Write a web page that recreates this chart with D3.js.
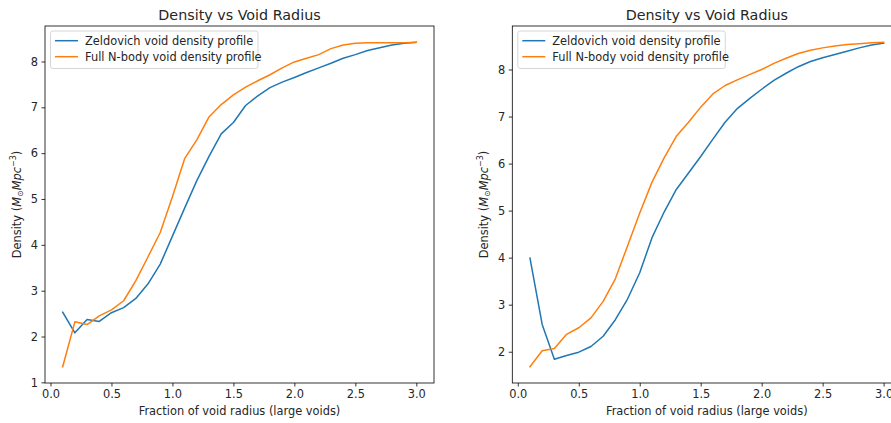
<!DOCTYPE html>
<html>
<head>
<meta charset="utf-8">
<script src="https://cdn.jsdelivr.net/npm/d3@7"></script>
<style>
  html, body { margin: 0; padding: 0; background: #fff; }
  svg { display: block; font-family: "DejaVu Sans", sans-serif; }
</style>
</head>
<body>
<svg id="chart" width="891" height="423"></svg>
<script>
// Fractional radius bins (0.1 .. 3.0)
const radius = [0.1, 0.2, 0.3, 0.4, 0.5, 0.6, 0.7, 0.8, 0.9, 1.0,
                1.1, 1.2, 1.3, 1.4, 1.5, 1.6, 1.7, 1.8, 1.9, 2.0,
                2.1, 2.2, 2.3, 2.4, 2.5, 2.6, 2.7, 2.8, 2.9, 3.0];

// Left panel: density profiles
const zeldovichLeft = [2.53, 2.08, 2.37, 2.33, 2.52, 2.63, 2.83, 3.15, 3.58, 4.19,
                       4.80, 5.40, 5.93, 6.42, 6.67, 7.04, 7.25, 7.43, 7.55, 7.65,
                       7.76, 7.86, 7.96, 8.07, 8.15, 8.24, 8.30, 8.36, 8.40, 8.42];
const nbodyLeft     = [1.34, 2.32, 2.26, 2.45, 2.58, 2.78, 3.22, 3.74, 4.27, 5.05,
                       5.88, 6.29, 6.79, 7.06, 7.27, 7.44, 7.58, 7.71, 7.86, 7.99,
                       8.07, 8.15, 8.28, 8.36, 8.40, 8.41, 8.41, 8.41, 8.41, 8.42];

// Right panel: density profiles
const zeldovichRight = [3.99, 2.58, 1.84, 1.92, 1.99, 2.11, 2.33, 2.68, 3.12, 3.68,
                        4.42, 4.97, 5.45, 5.80, 6.15, 6.52, 6.88, 7.17, 7.38, 7.58,
                        7.77, 7.92, 8.06, 8.17, 8.25, 8.32, 8.39, 8.46, 8.52, 8.56];
const nbodyRight     = [1.68, 2.02, 2.07, 2.37, 2.51, 2.72, 3.07, 3.55, 4.25, 4.95,
                        5.60, 6.12, 6.58, 6.88, 7.20, 7.48, 7.66, 7.78, 7.89, 8.00,
                        8.13, 8.24, 8.34, 8.41, 8.46, 8.50, 8.53, 8.55, 8.57, 8.58];

const xTicks = [0.0, 0.5, 1.0, 1.5, 2.0, 2.5, 3.0];
const yTicksLeft = [1, 2, 3, 4, 5, 6, 7, 8];
const yTicksRight = [2, 3, 4, 5, 6, 7, 8];

const seriesNames = ["Zeldovich void density profile", "Full N-body void density profile"];
const seriesColors = ["#1f77b4", "#ff7f0e"];

const titleText = "Density vs Void Radius";
const xLabelText = "Fraction of void radius (large voids)";

const svg = d3.select("#chart");

const panelW = 389, plotTop = 26, plotBottom = 383;
const fontTick = 11.4, fontTitle = 14.3;

// Extent padded by 5% on each side
function padded(values) {
  const [lo, hi] = d3.extent(values);
  const m = (hi - lo) * 0.05;
  return [lo - m, hi + m];
}

function drawPanel(x0, zel, nbody, yTicks, yLabelX) {
  const g = svg.append("g");
  const x = d3.scaleLinear().domain(padded(radius)).range([x0, x0 + panelW]);
  const y = d3.scaleLinear().domain(padded(zel.concat(nbody))).range([plotBottom, plotTop]);

  // Axes with outward ticks
  const xAxis = d3.axisBottom(x).tickValues(xTicks).tickFormat(d3.format(".1f"))
    .tickSizeInner(3.5).tickSizeOuter(0).tickPadding(3.5);
  const yAxis = d3.axisLeft(y).tickValues(yTicks).tickFormat(d3.format("d"))
    .tickSizeInner(3.5).tickSizeOuter(0).tickPadding(3.5);

  const gx = g.append("g").attr("transform", `translate(0,${plotBottom})`).call(xAxis);
  const gy = g.append("g").attr("transform", `translate(${x0},0)`).call(yAxis);
  [gx, gy].forEach(a => {
    a.select(".domain").remove();
    a.selectAll(".tick line").attr("stroke", "#000").attr("stroke-width", 0.8);
    a.selectAll(".tick text").attr("fill", "#262626")
      .style("font-size", fontTick + "px").style("font-family", "DejaVu Sans");
  });

  // Lines
  const line = d3.line().x((d, i) => x(radius[i])).y(d => y(d));
  [zel, nbody].forEach((s, k) => {
    g.append("path").datum(s)
      .attr("fill", "none")
      .attr("stroke", seriesColors[k])
      .attr("stroke-width", 1.5)
      .attr("stroke-linejoin", "round")
      .attr("stroke-linecap", "square")
      .attr("d", line);
  });

  // Frame
  g.append("rect")
    .attr("x", x0).attr("y", plotTop)
    .attr("width", panelW).attr("height", plotBottom - plotTop)
    .attr("fill", "none").attr("stroke", "#000").attr("stroke-width", 0.8);

  // Title
  g.append("text")
    .attr("x", x0 + panelW / 2).attr("y", 20)
    .attr("text-anchor", "middle")
    .attr("fill", "#262626")
    .style("font-size", fontTitle + "px")
    .text(titleText);

  // X label
  g.append("text")
    .attr("x", x0 + panelW / 2).attr("y", 415)
    .attr("text-anchor", "middle")
    .attr("fill", "#262626")
    .style("font-size", fontTick + "px")
    .text(xLabelText);

  // Y label with math units
  const yl = g.append("text")
    .attr("transform", `translate(${yLabelX},${(plotTop + plotBottom) / 2}) rotate(-90)`)
    .attr("text-anchor", "middle")
    .attr("fill", "#262626")
    .style("font-size", fontTick + "px");
  yl.append("tspan").text("Density (");
  yl.append("tspan").attr("font-style", "italic").text("M");
  yl.append("tspan").attr("dy", 2.5).style("font-size", "8px").text("\u2299");
  yl.append("tspan").attr("dy", -2.5).attr("font-style", "italic").text("Mpc");
  yl.append("tspan").attr("dy", -4.5).style("font-size", "8px").text("\u22123");
  yl.append("tspan").attr("dy", 4.5).text(")");

  // Legend
  const lg = g.append("g").attr("transform", `translate(${x0 + 5.5},${plotTop + 5})`);
  lg.append("rect")
    .attr("width", 207.5).attr("height", 37.5)
    .attr("rx", 2.5).attr("ry", 2.5)
    .attr("fill", "#fff").attr("fill-opacity", 0.8)
    .attr("stroke", "#cccccc").attr("stroke-width", 0.8);
  seriesNames.forEach((name, k) => {
    const cy = 9.7 + k * 16;
    lg.append("line")
      .attr("x1", 4.5).attr("x2", 27.5).attr("y1", cy).attr("y2", cy)
      .attr("stroke", seriesColors[k]).attr("stroke-width", 1.5);
    lg.append("text")
      .attr("x", 34.5).attr("y", cy + 4)
      .attr("fill", "#262626")
      .style("font-size", fontTick + "px")
      .text(name);
  });
}

drawPanel(45, zeldovichLeft, nbodyLeft, yTicksLeft, 20.5);
drawPanel(512.3, zeldovichRight, nbodyRight, yTicksRight, 487.5);
</script>
</body>
</html>
